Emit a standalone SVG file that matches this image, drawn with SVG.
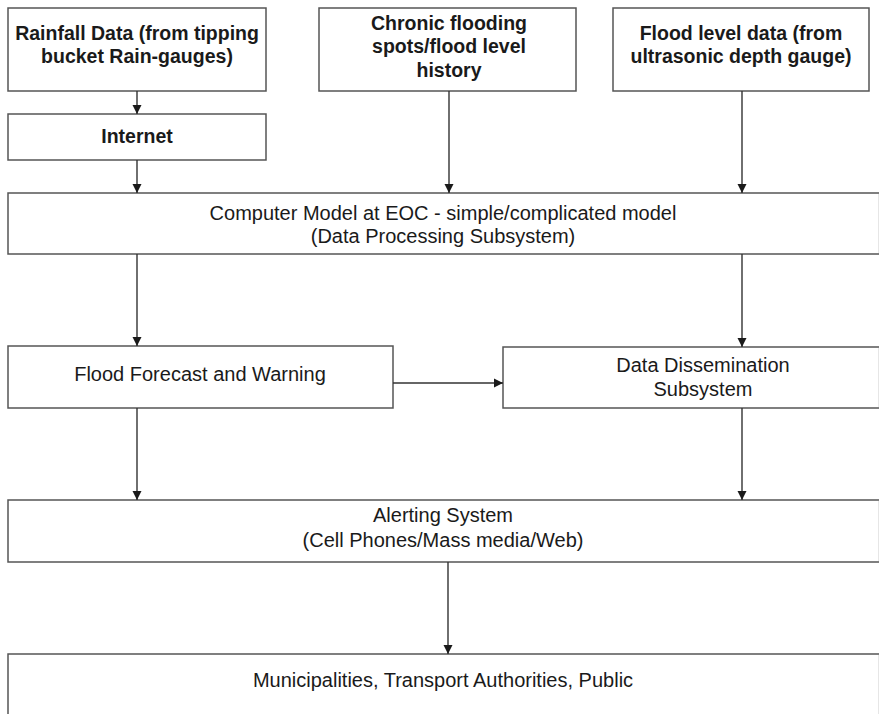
<svg xmlns="http://www.w3.org/2000/svg" width="883" height="714" viewBox="0 0 883 714">
  <style>
    .box { fill: #fff; stroke: #555; stroke-width: 1.5; }
    .edge { fill: none; stroke: #555; stroke-width: 1.5; }
    .faint { fill: none; stroke: #e6e6e6; stroke-width: 1; }
    .t { font-family: "Liberation Sans", Arial, sans-serif; font-size: 20px; fill: #1a1a1a; text-anchor: middle; }
    .b { font-weight: bold; font-size: 19.5px; }
    .conn line { stroke: #333; stroke-width: 1.4; marker-end: url(#arrow); }
  </style>
  <defs>
    <marker id="arrow" viewBox="0 0 10 10" refX="10" refY="5" markerWidth="9" markerHeight="10" markerUnits="userSpaceOnUse" orient="auto">
      <path d="M0,0 L10,5 L0,10 z" fill="#1a1a1a"/>
    </marker>
  </defs>
  <rect width="883" height="714" fill="#fff"/>

  <!-- input sources -->
  <g id="rainfall">
    <rect class="box" x="8" y="8" width="258" height="83"/>
    <text class="t b" x="137" y="40">Rainfall Data (from tipping</text>
    <text class="t b" x="137" y="63">bucket Rain-gauges)</text>
  </g>
  <g id="internet">
    <rect class="box" x="8" y="114" width="258" height="46"/>
    <text class="t b" x="137" y="143">Internet</text>
  </g>
  <g id="chronic">
    <rect class="box" x="319" y="8" width="257" height="83"/>
    <text class="t b" x="449" y="30">Chronic flooding</text>
    <text class="t b" x="449" y="53">spots/flood level</text>
    <text class="t b" x="449" y="77">history</text>
  </g>
  <g id="floodlevel">
    <rect class="box" x="613" y="8" width="256" height="83"/>
    <text class="t b" x="741" y="40">Flood level data (from</text>
    <text class="t b" x="741" y="63">ultrasonic depth gauge)</text>
  </g>

  <!-- processing -->
  <g id="model">
    <path class="edge" d="M879,193 H8 V254 H879"/>
    <line class="faint" x1="878.5" y1="194" x2="878.5" y2="253"/>
    <text class="t" x="443" y="220">Computer Model at EOC - simple/complicated model</text>
    <text class="t" x="443" y="243">(Data Processing Subsystem)</text>
  </g>
  <g id="forecast">
    <rect class="box" x="8" y="346" width="385" height="62"/>
    <text class="t" x="200" y="381">Flood Forecast and Warning</text>
  </g>
  <g id="dissemination">
    <path class="edge" d="M879,347 H503 V408 H879"/>
    <line class="faint" x1="878.5" y1="348" x2="878.5" y2="407"/>
    <text class="t" x="703" y="372">Data Dissemination</text>
    <text class="t" x="703" y="396">Subsystem</text>
  </g>

  <!-- outputs -->
  <g id="alerting">
    <path class="edge" d="M879,500 H8 V562 H879"/>
    <line class="faint" x1="878.5" y1="501" x2="878.5" y2="561"/>
    <text class="t" x="443" y="522">Alerting System</text>
    <text class="t" x="443" y="547">(Cell Phones/Mass media/Web)</text>
  </g>
  <g id="public">
    <path class="edge" d="M879,654 H8 V720"/>
    <line class="faint" x1="878.5" y1="655" x2="878.5" y2="714"/>
    <text class="t" x="443" y="687">Municipalities, Transport Authorities, Public</text>
  </g>

  <g id="connectors" class="conn">
    <line x1="137" y1="91" x2="137" y2="114"/>
    <line x1="137" y1="160" x2="137" y2="193"/>
    <line x1="449" y1="91" x2="449" y2="193"/>
    <line x1="742" y1="91" x2="742" y2="193"/>
    <line x1="137" y1="254" x2="137" y2="346"/>
    <line x1="742" y1="254" x2="742" y2="347"/>
    <line x1="393" y1="383" x2="503" y2="383"/>
    <line x1="137" y1="408" x2="137" y2="500"/>
    <line x1="742" y1="408" x2="742" y2="500"/>
    <line x1="448" y1="562" x2="448" y2="654"/>
  </g>
</svg>
